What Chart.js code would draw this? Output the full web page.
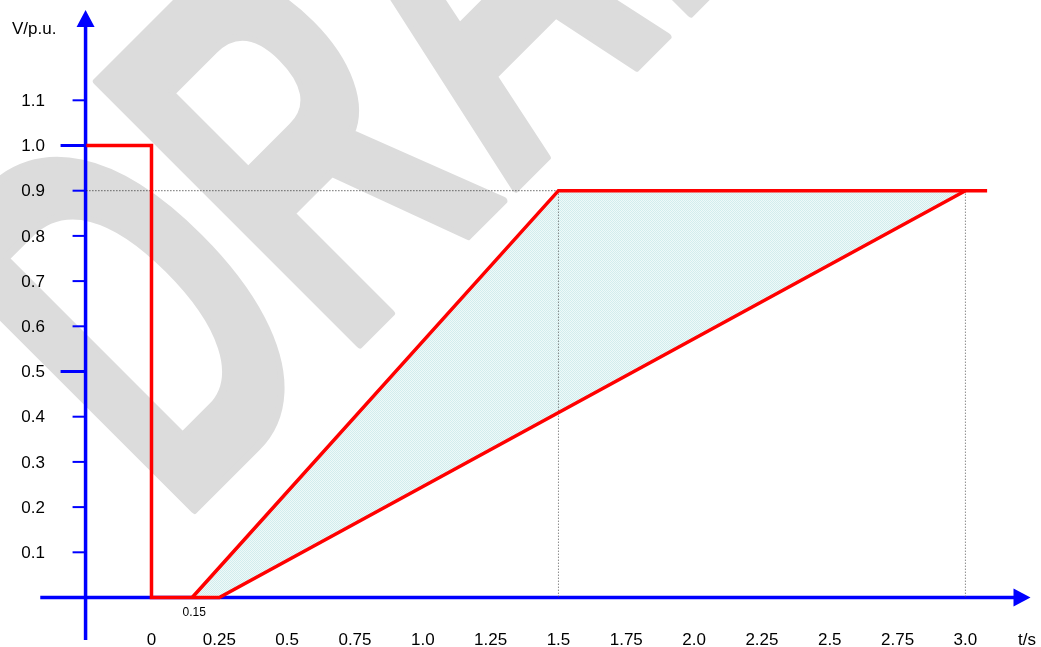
<!DOCTYPE html>
<html>
<head>
<meta charset="utf-8">
<script src="https://cdn.jsdelivr.net/npm/chart.js@4.4.1/dist/chart.umd.min.js"></script>
<style>
  html, body { margin: 0; padding: 0; background: #fff; }
  #lvrt { display: block; }
</style>
</head>
<body>
<canvas id="lvrt" width="1041" height="647"></canvas>
<script>
/* ===== DATA ===== */
const xTickValues = [0, 0.25, 0.5, 0.75, 1.0, 1.25, 1.5, 1.75, 2.0, 2.25, 2.5, 2.75, 3.0];
const xTickLabels = ['0', '0.25', '0.5', '0.75', '1.0', '1.25', '1.5', '1.75', '2.0', '2.25', '2.5', '2.75', '3.0'];
const yTickValues = [0.1, 0.2, 0.3, 0.4, 0.5, 0.6, 0.7, 0.8, 0.9, 1.0, 1.1];
const yTickLabels = ['0.1', '0.2', '0.3', '0.4', '0.5', '0.6', '0.7', '0.8', '0.9', '1.0', '1.1'];
const yMajorTicks = [0.5, 1.0];

// voltage dip: 1.0 p.u. before the fault, 0 until 0.25 s, then recovery to 0.9 at 3.0 s
const dipT = [-0.24, 0, 0, 0.25, 3.0];
const dipV = [1.0, 1.0, 0, 0, 0.9];
// fast recovery boundary: leaves zero at 0.15 s, reaches 0.9 at 1.5 s
const fastT = [0.15, 1.5, 3.08];
const fastV = [0, 0.9, 0.9];
// shaded recovery band
const bandT = [0.15, 1.5, 3.0, 0.25];
const bandV = [0, 0.9, 0.9, 0];
// dotted guides
const guideT = [1.5, 3.0];
const guideV = 0.9;
const guideStart = -0.24;
const markT = 0.15;

/* ===== AXIS EXTENTS ===== */
const yAxisAt = -0.243;
const xAxisFrom = -0.41, xAxisTo = 3.24;
const yAxisFrom = -0.094, yAxisTo = 1.30;

const RED = '#ff0000';
const BLUE = '#0000ff';
const FONT = '"Liberation Sans", Arial, sans-serif';

const pts = (ts, vs) => ts.map((t, i) => ({ x: t, y: Array.isArray(vs) ? vs[i] : vs }));

/* ===== HATCH FILL ===== */
function hatchPattern() {
  const c = document.createElement('canvas');
  c.width = 2; c.height = 2;
  const g = c.getContext('2d');
  g.fillStyle = '#eef9f9'; g.fillRect(0, 0, 2, 2);
  g.fillStyle = '#d2eded'; g.fillRect(0, 0, 1, 1); g.fillRect(1, 1, 1, 1);
  return g.createPattern(c, 'repeat');
}

/* ===== WATERMARK ===== */
// condensed bold text, turned 45 degrees and reading up to the right
const watermark = {
  id: 'watermark',
  beforeDraw(chart) {
    const ctx = chart.ctx;
    ctx.save();
    ctx.translate(178, 526);
    ctx.rotate(-Math.PI / 4);
    ctx.scale(0.6, 1);
    ctx.font = 'bold 540px ' + FONT;
    ctx.fillStyle = '#dcdcdc';
    ctx.strokeStyle = '#dcdcdc';
    ctx.lineWidth = 8;
    ctx.lineJoin = 'round';
    ctx.textBaseline = 'alphabetic';
    ctx.fillText('DRAFT', 0, 0);
    ctx.strokeText('DRAFT', 0, 0);
    ctx.restore();
  }
};

/* ===== AXES WITH ARROWS ===== */
const arrowAxes = {
  id: 'arrowAxes',
  beforeDatasetsDraw(chart) {
    const { ctx, scales: { x, y } } = chart;
    const ax = x.getPixelForValue(yAxisAt);
    const ay = y.getPixelForValue(0);
    ctx.save();
    ctx.strokeStyle = BLUE;
    ctx.fillStyle = BLUE;

    // x axis
    ctx.lineWidth = 3.5;
    ctx.beginPath();
    ctx.moveTo(x.getPixelForValue(xAxisFrom), ay);
    ctx.lineTo(x.getPixelForValue(xAxisTo) - 10, ay);
    ctx.stroke();
    const xt = x.getPixelForValue(xAxisTo);
    ctx.beginPath();
    ctx.moveTo(xt, ay);
    ctx.lineTo(xt - 17, ay - 9);
    ctx.lineTo(xt - 17, ay + 9);
    ctx.closePath();
    ctx.fill();

    // y axis
    ctx.lineWidth = 3.5;
    ctx.beginPath();
    ctx.moveTo(ax, y.getPixelForValue(yAxisFrom));
    ctx.lineTo(ax, y.getPixelForValue(yAxisTo) + 10);
    ctx.stroke();
    const yt = y.getPixelForValue(yAxisTo);
    ctx.beginPath();
    ctx.moveTo(ax, yt);
    ctx.lineTo(ax - 9, yt + 17);
    ctx.lineTo(ax + 9, yt + 17);
    ctx.closePath();
    ctx.fill();

    // y ticks
    yTickValues.forEach(v => {
      const py = y.getPixelForValue(v);
      const major = yMajorTicks.includes(v);
      ctx.lineWidth = major ? 3 : 2;
      ctx.beginPath();
      ctx.moveTo(ax - (major ? 25 : 13), py);
      ctx.lineTo(ax, py);
      ctx.stroke();
    });
    ctx.restore();
  },
  afterDraw(chart) {
    const { ctx, scales: { x, y } } = chart;
    const ay = y.getPixelForValue(0);
    ctx.save();
    ctx.fillStyle = '#000';
    ctx.font = '17px ' + FONT;

    ctx.textAlign = 'right';
    ctx.textBaseline = 'middle';
    yTickValues.forEach((v, i) => ctx.fillText(yTickLabels[i], 45, y.getPixelForValue(v) + 1));

    ctx.textAlign = 'center';
    ctx.textBaseline = 'alphabetic';
    xTickValues.forEach((v, i) => ctx.fillText(xTickLabels[i], x.getPixelForValue(v), ay + 47));

    ctx.textAlign = 'left';
    ctx.fillText('t/s', 1018, ay + 47);
    ctx.fillText('V/p.u.', 12, 34);

    ctx.font = '12px ' + FONT;
    ctx.textAlign = 'center';
    ctx.fillText(String(markT), x.getPixelForValue(markT) + 2, ay + 18);
    ctx.restore();
  }
};

/* ===== CHART ===== */
const guideStyle = { showLine: true, pointRadius: 0, borderWidth: 1, borderDash: [1, 2], fill: false, order: 4 };

new Chart(document.getElementById('lvrt'), {
  type: 'scatter',
  data: {
    datasets: [
      { data: pts(dipT, dipV), showLine: true, borderColor: RED, borderWidth: 3.5, pointRadius: 0, order: 1,
        borderJoinStyle: 'miter' },
      { data: pts(fastT, fastV), showLine: true, borderColor: RED, borderWidth: 3.5, pointRadius: 0, order: 1,
        borderJoinStyle: 'miter' },
      { data: pts(bandT, bandV), showLine: true, borderWidth: 0, borderColor: 'transparent', pointRadius: 0,
        backgroundColor: hatchPattern(), fill: 'shape', order: 6 },
      { ...guideStyle, data: pts([guideStart, guideT[0]], guideV), borderColor: '#222' },
      ...guideT.map(t => ({ ...guideStyle, data: pts([t, t], [guideV, 0]), borderColor: '#555' }))
    ]
  },
  options: {
    responsive: false,
    animation: false,
    events: [],
    layout: { padding: 0 },
    plugins: { legend: { display: false }, tooltip: { enabled: false } },
    scales: {
      x: { type: 'linear', display: false, min: -0.5584, max: 3.2786 },
      y: { type: 'linear', display: false, min: -0.1095, max: 1.3219 }
    }
  },
  plugins: [watermark, arrowAxes]
});
</script>
</body>
</html>
